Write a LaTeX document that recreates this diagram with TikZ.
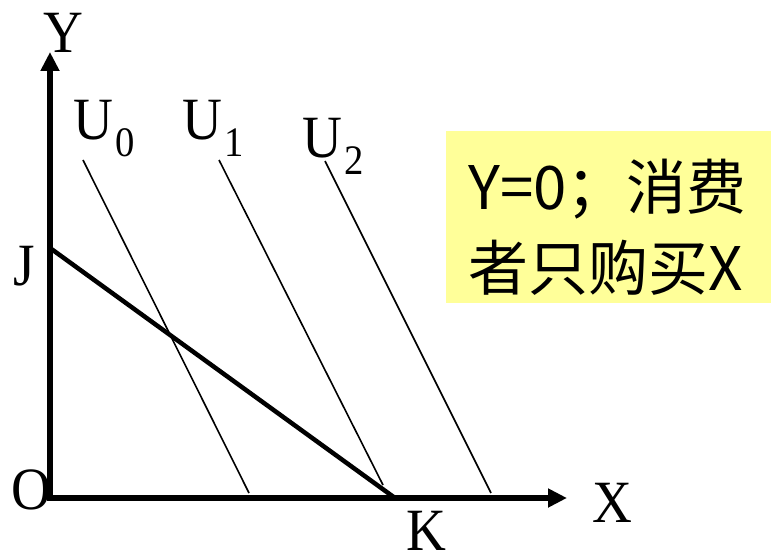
\documentclass[tikz,border=0pt]{standalone}
\usepackage{fontspec}
\setmainfont{Liberation Serif}[FakeStretch=0.92]
\newfontfamily\cjk{Noto Sans CJK SC}
\usepackage{tikz}
\usetikzlibrary{arrows.meta}
\definecolor{noteyellow}{RGB}{255,255,153}
\newcommand\ulab[2]{#1\kern0.04em\raisebox{-0.27em}{\fontsize{42}{42}\selectfont #2}}

\begin{document}
\begin{tikzpicture}[x=1pt, y=-1pt,
  axis/.style={line width=5.5pt, {Triangle[length=19pt,width=18pt]}-{Triangle[length=19pt,width=18pt]}},
  budget/.style={line width=4.5pt},
  curve/.style={line width=1.6pt},
  lab/.style={font=\fontsize{60}{60}\selectfont, inner sep=0, anchor=base west},
  note/.style={font=\cjk\fontsize{60}{80}\selectfont, inner sep=0, anchor=base west},
]
\useasboundingbox (0,0) rectangle (771,556);
\coordinate (O) at (50,498);
\coordinate (Ytip) at (50,52);
\coordinate (Xtip) at (567,498);
\coordinate (J) at (50,248);
\coordinate (K) at (395,498);
% axes and budget line
\draw[axis] (Ytip) -- (O) -- (Xtip);
\draw[budget] (J) -- (K);
% indifference curves
\foreach \n/\xa/\ya/\xb/\yb in {0/83/160/249/493, 1/219/160/383/485, 2/325/161/491/493} {
  \coordinate (u\n a) at (\xa,\ya);
  \coordinate (u\n b) at (\xb,\yb);
  \draw[curve] (u\n a) -- (u\n b);
}
\node[lab] (ulab0) at (73,140) {\ulab{U}{0}};
\node[lab] (ulab1) at (182,140) {\ulab{U}{1}};
\node[lab] (ulab2) at (302,158) {\ulab{U}{2}};
\node[lab] (ylab) at (43,53) {Y};
\node[lab] (jlab) at (13,285) {J};
\node[lab] (olab) at (11,509) {O};
\node[lab] (klab) at (406,550) {K};
\node[lab] (xlab) at (592,522) {X};
% note box
\fill[noteyellow] (446,131) rectangle (771,303);
\node[note] (note1) at (468,210) {Y=0；消费};
\node[note] (note2) at (468,290) {者只购买X};
\end{tikzpicture}
\end{document}
